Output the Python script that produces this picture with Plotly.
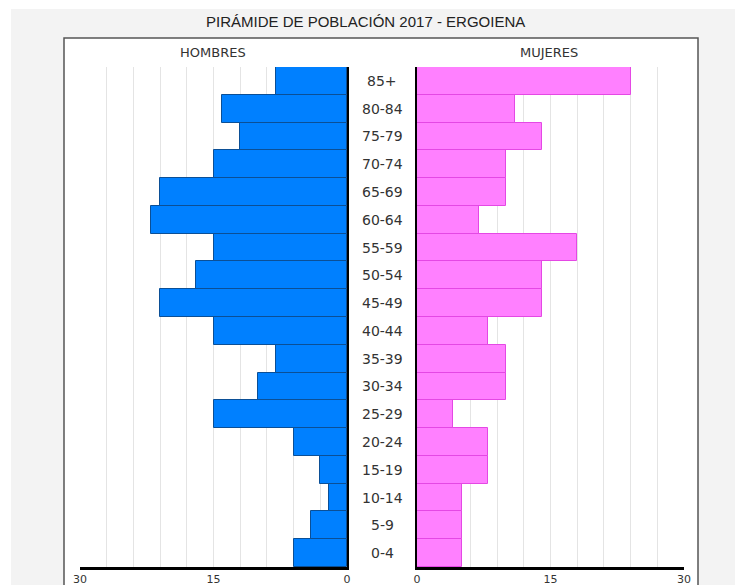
import plotly.graph_objects as go

# age groups, bottom to top
age_groups = ["0-4", "5-9", "10-14", "15-19", "20-24", "25-29", "30-34", "35-39",
              "40-44", "45-49", "50-54", "55-59", "60-64", "65-69", "70-74",
              "75-79", "80-84", "85+"]
hombres = [6, 4, 2, 3, 6, 15, 10, 8, 15, 21, 17, 15, 22, 21, 15, 12, 14, 8]
mujeres = [5, 5, 5, 8, 8, 4, 10, 10, 8, 14, 14, 18, 7, 10, 10, 14, 11, 24]
tick_vals = [0, 15, 30]
tick_text = ["0", "15", "30"]

W, H = 735, 585


def px_x(p):
    return p / W


def px_y(p):
    return (H - p) / H


fig = go.Figure()
fig.add_trace(go.Bar(
    x=hombres, y=age_groups, orientation='h', xaxis='x', yaxis='y',
    marker=dict(color='#0080ff', line=dict(color='#0b4f96', width=1)),
    hoverinfo='x+y', name='Hombres'
))
fig.add_trace(go.Bar(
    x=mujeres, y=age_groups, orientation='h', xaxis='x2', yaxis='y2',
    marker=dict(color='#ff80ff', line=dict(color='#e448e4', width=1)),
    hoverinfo='x+y', name='Mujeres'
))

axis_font = dict(family='DejaVu Sans', size=11, color='#333333')
common_x = dict(
    tickvals=tick_vals, ticktext=tick_text, tickfont=axis_font, ticks='',
    showgrid=True, gridcolor='#e4e4e4', gridwidth=1,
    minor=dict(dtick=3, showgrid=True, gridcolor='#e4e4e4', gridwidth=1),
    showline=True, linecolor='black', linewidth=3, zeroline=False,
    automargin=False, fixedrange=True
)
common_y = dict(
    type='category', categoryorder='array', categoryarray=age_groups,
    showticklabels=False, showgrid=False, zeroline=False, ticks='',
    showline=True, linecolor='black', linewidth=2, automargin=False,
    domain=[px_y(567), px_y(67)], fixedrange=True
)

fig.update_layout(
    width=W, height=H,
    margin=dict(l=0, r=0, t=0, b=0),
    showlegend=False,
    bargap=0,
    paper_bgcolor='white',
    plot_bgcolor='rgba(0,0,0,0)',
    xaxis=dict(common_x, domain=[px_x(80), px_x(347)], range=[30, 0], anchor='y'),
    xaxis2=dict(common_x, domain=[px_x(417), px_x(684)], range=[0, 30], anchor='y2'),
    yaxis=dict(common_y, anchor='x', side='right'),
    yaxis2=dict(common_y, anchor='x2', side='left', matches='y'),
    shapes=[
        dict(type='rect', xref='paper', yref='paper', layer='below',
             x0=px_x(11), x1=1.01, y0=-0.05, y1=px_y(9),
             fillcolor='#f3f3f3', line=dict(width=0)),
        dict(type='rect', xref='paper', yref='paper', layer='below',
             x0=px_x(64), x1=px_x(698), y0=-0.05, y1=px_y(38),
             fillcolor='white', line=dict(color='#555555', width=1.5)),
    ],
)

annotations = [
    dict(text='PIRÁMIDE DE POBLACIÓN 2017 - ERGOIENA', x=px_x(365.5), y=px_y(22),
         font=dict(family='Liberation Sans', size=15, color='#222222')),
    dict(text='HOMBRES', x=px_x(213), y=px_y(52),
         font=dict(family='DejaVu Sans', size=13, color='#333333')),
    dict(text='MUJERES', x=px_x(549), y=px_y(52),
         font=dict(family='DejaVu Sans', size=13, color='#333333')),
]
for a in annotations:
    a.update(xref='paper', yref='paper', showarrow=False, xanchor='center', yanchor='middle')

for g in age_groups:
    annotations.append(dict(
        text=g, x=px_x(382), y=g, xref='paper', yref='y', showarrow=False,
        xanchor='center', yanchor='middle',
        font=dict(family='DejaVu Sans', size=14, color='#333333')
    ))

fig.update_layout(annotations=annotations)

# drop the default page margin so the figure fills the window without scrollbars
fig.write_html(
    "out.html",
    config={'displayModeBar': False},
    post_script="document.body.style.margin='0';"
                "document.documentElement.style.overflow='hidden';"
)
